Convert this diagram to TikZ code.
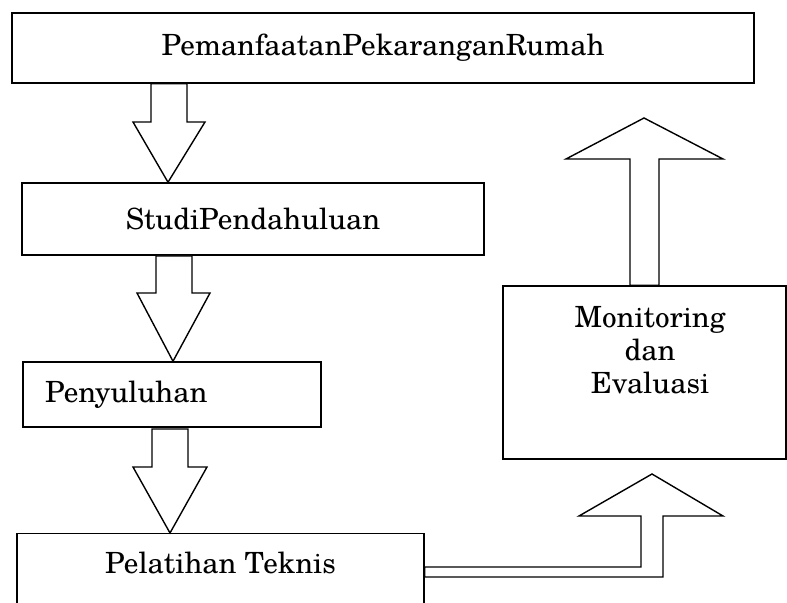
\documentclass[tikz,border=0pt]{standalone}
\usepackage{fontspec}
\setmainfont{TeX Gyre Schola}
\begin{document}
\begin{tikzpicture}[x=0.5pt,y=-0.5pt,
    stage/.style={draw,line width=0.75pt,inner sep=0pt,font=\fontsize{14.6pt}{16.5pt}\selectfont},
    label text/.style={inner sep=0pt,font=\fontsize{14.6pt}{16.5pt}\selectfont},
    blockarrow/.style={draw,line width=0.7pt,fill=white,line join=miter}]

       \useasboundingbox (0,0) rectangle (787,603);
       \clip (0,0) rectangle (787,603);

       \node[stage,minimum width=371pt,minimum height=35pt] (rumah) at (383,48) {PemanfaatanPekaranganRumah};
       \node[stage,minimum width=231pt,minimum height=36pt] (studi) at (253,219) {StudiPendahuluan};
       \node[stage,minimum width=149pt,minimum height=32.5pt,text width=127pt,inner xsep=11pt,align=left] (suluh) at (172,394.5) {Penyuluhan};
       \node[stage,minimum width=203.5pt,anchor=north,text height=20pt,text depth=33.5pt] (latih) at (220.5,533) {Pelatihan Teknis};
       \node[stage,minimum width=141.5pt,minimum height=86.5pt] (monev) at (644.5,372.5) {};
       \node[label text,align=center] (monevtext) at (650,350) {Monitoring\\dan\\Evaluasi};

       \draw[blockarrow] (rumah.south -| 151,0) -- (151,122) -- (133,122) -- (studi.north -| 168,0)
           -- (205,122) -- (187,122) -- (rumah.south -| 187,0) -- cycle;
       \draw[blockarrow] (156,256) -- (156,293) -- (137,293) -- (suluh.north -| 173,0)
           -- (210,293) -- (192,293) -- (192,256) -- cycle;
       \draw[blockarrow] (152,429) -- (152,467) -- (133,467) -- (latih.north -| 170,0)
           -- (207,467) -- (188,467) -- (188,429) -- cycle;
       \draw[blockarrow] (monev.north -| 630,0) -- (630,159) -- (566,159) -- (644,118)
           -- (723,159) -- (659,159) -- (monev.north -| 659,0) -- cycle;
       \draw[blockarrow] (latih.east |- 0,567) -- (641,567) -- (641,516) -- (579,516) -- (652,474)
           -- (723,516) -- (663,516) -- (663,577) -- (latih.east |- 0,577) -- cycle;
     \end{tikzpicture}
\end{document}
